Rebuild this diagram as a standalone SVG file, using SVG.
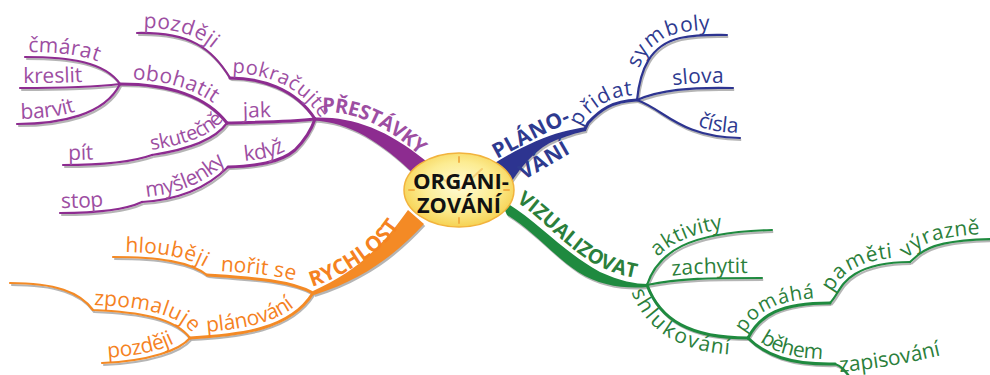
<svg xmlns="http://www.w3.org/2000/svg" width="990" height="375" viewBox="0 0 990 375">
<style>
  .sh{fill:none;stroke:#a2a2a2;stroke-opacity:.8}
  .shf{fill:#a2a2a2;fill-opacity:.8}
  .ln{fill:none;stroke-linecap:round}
  .w3{stroke-width:3}
  .w2{stroke-width:2.2}
  .pu{stroke:#8d2c90} .puf{fill:#8d2c90}
  .bl{stroke:#2d3490} .blf{fill:#2d3490}
  .gr{stroke:#1f8a3f} .grf{fill:#1f8a3f}
  .or{stroke:#f48a25} .orf{fill:#f48a25}
  text{font-family:"Open Sans","Noto Sans",sans-serif;font-size:21px}
  .sm{font-size:20px}
  .tp{fill:#9d4ea2} .tb{fill:#2e3a8f} .tg{fill:#2b7f3b} .to{fill:#f5821f}
  .big{font-weight:700;font-size:20px}
  .big2{font-weight:700;font-size:21px}
</style>
<defs>
  <radialGradient id="face" cx="50%" cy="45%" r="55%">
    <stop offset="0" stop-color="#fffbd6"/>
    <stop offset=".6" stop-color="#fcec92"/>
    <stop offset="1" stop-color="#f6d253"/>
  </radialGradient>
  <!-- purple branch -->
  <path id="t-pu" d="M313,117.5 C350,116 386,128 426,161 L414,174 C380,142 350,122 313,120.5 Z"/>
  <path id="p-pu" d="M322,112 C352,111 385,124 420,156"/>
  <path id="e-pokr" d="M230,78 C260,78 295,88 315,119"/>
  <path id="x-pokr" d="M230,78 C260,78 295,88 315,119 L322,131"/>
  <path id="e-pozd" d="M137,33 C190,32 212,48 230,78"/>
  <path id="e-jak" d="M227,123 C260,122 290,122 315,119"/>
  <path id="e-kdyz" d="M228,167 C255,166 280,163 295,150 C305,140 312,128 315,119"/>
  <path id="e-oboh" d="M120,84 C165,84 205,95 227,123"/>
  <path id="e-skut" d="M152,155 C185,150 215,140 227,123"/>
  <path id="x-skut" d="M152,155 C185,150 215,140 227,123 L233,112"/>
  <path id="e-pit" d="M63,165 C100,165 130,163 152,155"/>
  <path id="e-cmar" d="M25,57 C70,57 105,62 120,84"/>
  <path id="e-kres" d="M20,88 C60,88 95,87 120,84"/>
  <path id="e-barv" d="M17,124 C60,124 105,115 120,84"/>
  <path id="e-mysl" d="M142,202 C175,200 205,190 228,167"/>
  <path id="e-stop" d="M60,213 C100,213 125,210 142,202"/>
  <!-- blue branch -->
  <path id="t-bl" d="M490,166 C515,150 540,138 562,132 C570,130 578,128 586,127 L586,131 C575,133 568,136 562,138 C545,143 528,156 510,184 Z"/>
  <path id="p-plano" d="M497,159 C520,147 545,132 578,119"/>
  <path id="e-prid" d="M585,129 L588,123 C600,110 612,101 637,100"/>
  <path id="e-symb" d="M637,100 C640,70 650,45 680,38 C700,34 715,35 727,35"/>
  <path id="e-slov" d="M637,100 C660,90 690,87 733,88"/>
  <path id="e-cisl" d="M637,100 C665,110 680,137 740,138"/>
  <!-- green branch -->
  <path id="t-gr" d="M500,199 C535,218 560,250 600,272 C620,281 635,284 648,284 L648,287 C625,289 600,286 578,272 C555,257 532,230 507,215 Z"/>
  <path id="p-gr" d="M513,199 C545,220 570,254 605,269 C620,275 635,279 652,280"/>
  <path id="e-akt" d="M647,285 C658,252 688,232 772,230"/>
  <path id="e-zach" d="M647,285 C680,278 710,278 762,278"/>
  <path id="e-shl" d="M647,285 C660,320 690,338 748,338"/>
  <path id="e-pom" d="M748,338 C760,315 780,303 830,303"/>
  <path id="e-pam" d="M830,303 C838,295 840,283 855,274 C870,265 890,262 910,262"/>
  <path id="e-vyr" d="M910,262 L918,255 C930,245 950,240 992,239"/>
  <path id="e-beh" d="M748,338 C765,355 790,365 835,364"/>
  <path id="e-zap" d="M835,364 C842,366 846,372 852,380"/>
  <path id="p-zap" d="M840,372 C870,370 905,364 946,354"/>
  <!-- orange branch -->
  <path id="t-or" d="M408,210 C390,235 365,268 313,291 L314,295 C368,278 400,250 424,224 Z"/>
  <path id="p-or" d="M311,287 C335,280 360,265 380,248 C390,240 397,230 404,219"/>
  <path id="e-nor" d="M207,275 C250,278 290,280 313,293"/>
  <path id="e-hlo" d="M113,257 C160,257 190,262 207,275"/>
  <path id="e-plan" d="M190,338 C240,335 290,330 313,293"/>
  <path id="e-zpo" d="M10,283 C55,283 80,292 93,310 C140,312 175,318 190,338"/>
  <path id="e-poz2" d="M102,363 C150,361 180,350 190,338"/>
</defs>

<!-- connectors: grey drop shadow first, coloured strokes on top -->
<g id="connectors">
  <g transform="translate(1.2,2)">
    <use href="#t-pu" class="shf"/><use href="#t-bl" class="shf"/><use href="#t-gr" class="shf"/><use href="#t-or" class="shf"/>
    <g class="sh w2">
      <use href="#e-pokr"/><use href="#e-pozd"/><use href="#e-jak"/><use href="#e-kdyz"/><use href="#e-oboh"/><use href="#e-skut"/><use href="#e-pit"/><use href="#e-cmar"/><use href="#e-kres"/><use href="#e-barv"/><use href="#e-mysl"/><use href="#e-stop"/>
      <use href="#e-prid"/><use href="#e-symb"/><use href="#e-slov"/><use href="#e-cisl"/>
      <use href="#e-akt"/><use href="#e-zach"/><use href="#e-shl"/><use href="#e-pom"/><use href="#e-pam"/><use href="#e-vyr"/><use href="#e-beh"/><use href="#e-zap"/>
      <use href="#e-nor"/><use href="#e-hlo"/><use href="#e-plan"/><use href="#e-zpo"/><use href="#e-poz2"/>
    </g>
  </g>
  <use href="#t-pu" class="puf"/>
  <g class="ln pu w3"><use href="#e-pokr"/><use href="#e-jak"/><use href="#e-kdyz"/><use href="#e-oboh"/></g>
  <g class="ln pu w2"><use href="#e-pozd"/><use href="#e-skut"/><use href="#e-pit"/><use href="#e-cmar"/><use href="#e-kres"/><use href="#e-barv"/><use href="#e-mysl"/><use href="#e-stop"/></g>
  <use href="#t-bl" class="blf"/>
  <g class="ln bl w3"><use href="#e-prid"/></g>
  <g class="ln bl w2"><use href="#e-symb"/><use href="#e-slov"/><use href="#e-cisl"/></g>
  <use href="#t-gr" class="grf"/>
  <g class="ln gr w3"><use href="#e-shl"/><use href="#e-pom"/><use href="#e-beh"/></g>
  <g class="ln gr w2"><use href="#e-akt"/><use href="#e-zach"/><use href="#e-pam"/><use href="#e-vyr"/><use href="#e-zap"/></g>
  <use href="#t-or" class="orf"/>
  <g class="ln or w3"><use href="#e-nor"/><use href="#e-plan"/></g>
  <g class="ln or w2"><use href="#e-hlo"/><use href="#e-zpo"/><use href="#e-poz2"/></g>
</g>

<!-- central clock -->
<g id="organizovani">
  <ellipse cx="459" cy="190" rx="55" ry="37" fill="url(#face)" stroke="#f2b33d" stroke-width="1.5"/>
  <g stroke="#f0a83a" stroke-width="2" stroke-linecap="round" opacity=".85">
    <line x1="459" y1="157" x2="459" y2="162"/>
    <line x1="459" y1="218" x2="459" y2="223"/>
    <line x1="409" y1="190" x2="414" y2="190"/>
    <line x1="504" y1="190" x2="509" y2="190"/>
  </g>
  <g stroke="#f0b450" stroke-width="2" stroke-linecap="round" opacity=".55">
    <line x1="459" y1="190" x2="482" y2="169"/>
    <line x1="459" y1="190" x2="440" y2="177"/>
  </g>
  <text x="461" y="189" text-anchor="middle" font-weight="700" font-size="24" textLength="96" lengthAdjust="spacingAndGlyphs" fill="#111">ORGANI-</text>
  <text x="459" y="213" text-anchor="middle" font-weight="700" font-size="24" textLength="84" lengthAdjust="spacingAndGlyphs" fill="#111">ZOVÁNÍ</text>
</g>

<!-- purple: PŘESTÁVKY -->
<g id="prestavky"><text class="tp big" letter-spacing="-0.4"><textPath href="#p-pu" startOffset="0">PŘESTÁVKY</textPath></text></g>
<g id="pokracujte"><text class="tp sm"><textPath href="#x-pokr" startOffset="2"><tspan dy="-5">pokračujte</tspan></textPath></text></g>
<g id="pozdeji-1"><text class="tp"><textPath href="#e-pozd" startOffset="6"><tspan dy="-5">později</tspan></textPath></text></g>
<g id="jak"><text class="tp"><textPath href="#e-jak" startOffset="16"><tspan dy="-5">jak</tspan></textPath></text></g>
<g id="kdyz"><text class="tp"><textPath href="#e-kdyz" startOffset="17"><tspan dy="-5">když</tspan></textPath></text></g>
<g id="obohatit"><text class="tp"><textPath href="#e-oboh" startOffset="12"><tspan dy="-5">obohatit</tspan></textPath></text></g>
<g id="skutecne"><text class="tp sm"><textPath href="#x-skut" startOffset="0"><tspan dy="-5">skutečně</tspan></textPath></text></g>
<g id="pit"><text class="tp"><textPath href="#e-pit" startOffset="5"><tspan dy="-5">pít</tspan></textPath></text></g>
<g id="cmarat"><text class="tp"><textPath href="#e-cmar" startOffset="3"><tspan dy="-5">čmárat</tspan></textPath></text></g>
<g id="kreslit"><text class="tp"><textPath href="#e-kres" startOffset="3"><tspan dy="-5">kreslit</tspan></textPath></text></g>
<g id="barvit"><text class="tp"><textPath href="#e-barv" startOffset="4"><tspan dy="-5">barvit</tspan></textPath></text></g>
<g id="myslenky"><text class="tp"><textPath href="#e-mysl" startOffset="5"><tspan dy="-5">myšlenky</tspan></textPath></text></g>
<g id="stop"><text class="tp"><textPath href="#e-stop" startOffset="1"><tspan dy="-5">stop</tspan></textPath></text></g>

<!-- blue: PLÁNOVÁNÍ -->
<g id="planovani"><text class="tb big2" letter-spacing="0.6"><textPath href="#p-plano">PLÁNO-</textPath></text><text class="tb big2" letter-spacing="0.6" transform="translate(524,180) rotate(-30)">VÁNÍ</text></g>
<g id="pridat"><text class="tb"><textPath href="#e-prid" startOffset="0"><tspan dy="-5">přidat</tspan></textPath></text></g>
<g id="symboly"><text class="tb"><textPath href="#e-symb" startOffset="30"><tspan dy="-5">symboly</tspan></textPath></text></g>
<g id="slova"><text class="tb"><textPath href="#e-slov" startOffset="38"><tspan dy="-5">slova</tspan></textPath></text></g>
<g id="cisla"><text class="tb"><textPath href="#e-cisl" startOffset="67"><tspan dy="-5">čísla</tspan></textPath></text></g>

<!-- green: VIZUALIZOVAT -->
<g id="vizualizovat"><text class="tg big"><textPath href="#p-gr" startOffset="4">VIZUALIZOVAT</textPath></text></g>
<g id="aktivity"><text class="tg"><textPath href="#e-akt" startOffset="28"><tspan dy="-5">aktivity</tspan></textPath></text></g>
<g id="zachytit"><text class="tg"><textPath href="#e-zach" startOffset="26"><tspan dy="-5">zachytit</tspan></textPath></text></g>
<g id="shlukovani"><text class="tg"><textPath href="#e-shl" startOffset="0"><tspan dy="17">shlukování</tspan></textPath></text></g>
<g id="pomaha"><text class="tg sm"><textPath href="#e-pom" startOffset="2"><tspan dy="-5">pomáhá</tspan></textPath></text></g>
<g id="pameti"><text class="tg"><textPath href="#e-pam" startOffset="10"><tspan dy="-5">paměti</tspan></textPath></text></g>
<g id="vyrazne"><text class="tg"><textPath href="#e-vyr" startOffset="0"><tspan dy="-5">výrazně</tspan></textPath></text></g>
<g id="behem"><text class="tg"><textPath href="#e-beh" startOffset="12"><tspan dy="-5">během</tspan></textPath></text></g>
<g id="zapisovani"><text class="tg"><textPath href="#p-zap">zapisování</textPath></text></g>

<!-- orange: RYCHLOST -->
<g id="rychlost"><text class="to big2"><textPath href="#p-or" startOffset="1">RYCHLOST</textPath></text></g>
<g id="norit-se"><text class="to"><textPath href="#e-nor" startOffset="13"><tspan dy="-5">nořit se</tspan></textPath></text></g>
<g id="hloubeji"><text class="to"><textPath href="#e-hlo" startOffset="12"><tspan dy="-5">hlouběji</tspan></textPath></text></g>
<g id="planovani-2"><text class="to"><textPath href="#e-plan" startOffset="17"><tspan dy="-5">plánování</tspan></textPath></text></g>
<g id="zpomaluje"><text class="to"><textPath href="#e-zpo" startOffset="91"><tspan dy="-5">zpomaluje</tspan></textPath></text></g>
<g id="pozdeji-2"><text class="to"><textPath href="#e-poz2" startOffset="6"><tspan dy="-5">později</tspan></textPath></text></g>
</svg>
